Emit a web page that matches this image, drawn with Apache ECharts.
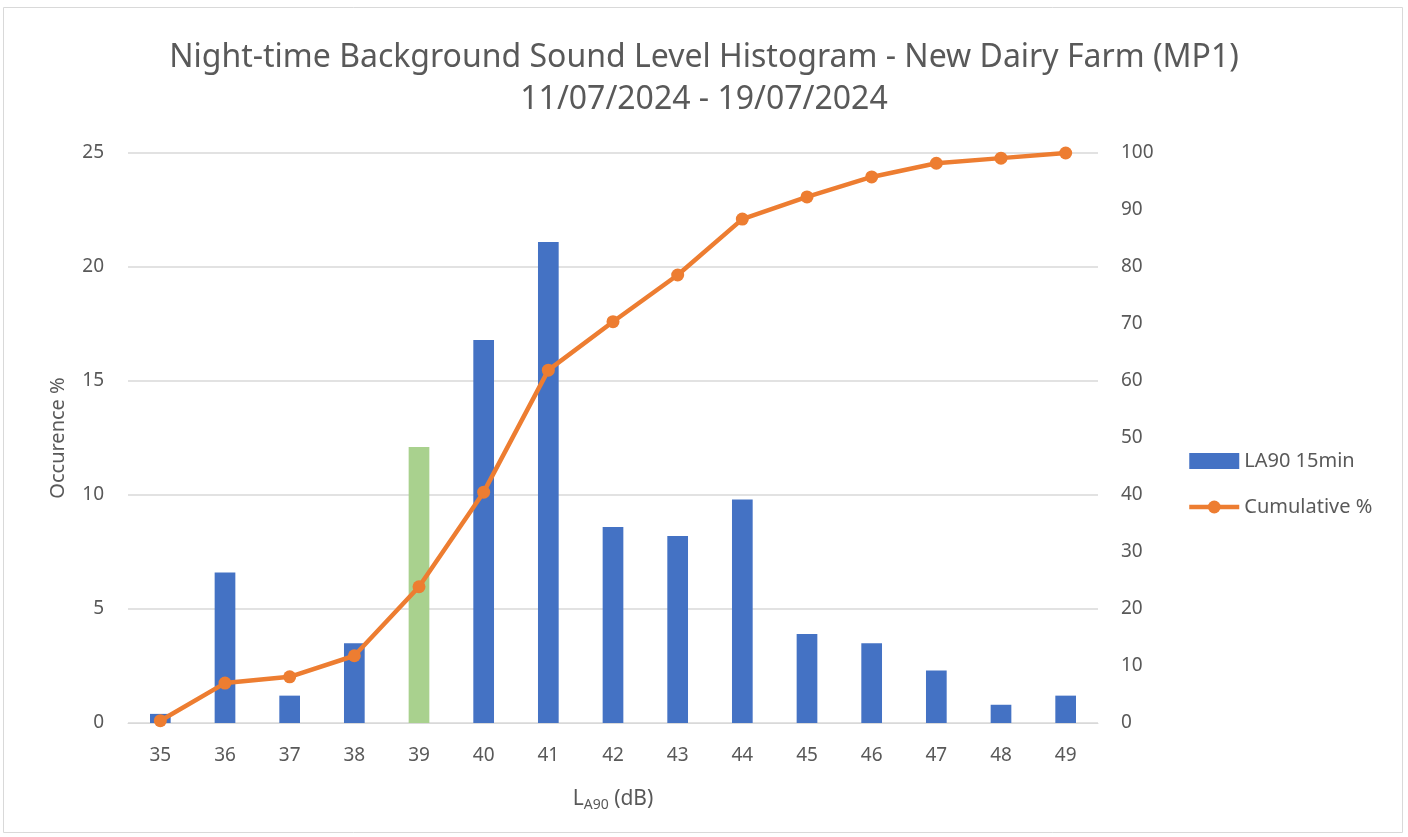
<!DOCTYPE html>
<html><head><meta charset="utf-8">
<script src="https://cdn.jsdelivr.net/npm/echarts@6/dist/echarts.min.js"></script>
<style>html,body{margin:0;padding:0;background:#fff}#c{width:1408px;height:837px}</style>
</head><body><div id="c"></div>
<script>
const categories = ['35','36','37','38','39','40','41','42','43','44','45','46','47','48','49'];
const occurrence = [0.4, 6.6, 1.2, 3.5, 12.1, 16.8, 21.1, 8.6, 8.2, 9.8, 3.9, 3.5, 2.3, 0.8, 1.2];
const cumulative = [0.4, 7.0, 8.1, 11.8, 23.9, 40.5, 61.9, 70.4, 78.6, 88.4, 92.3, 95.8, 98.2, 99.1, 100];
const highlightCategory = '39';
const titleLines = ['Night-time Background Sound Level Histogram - New Dairy Farm (MP1)', '11/07/2024 - 19/07/2024'];

const FONT = 'Noto Sans';
const chart = echarts.init(document.getElementById('c'));
chart.setOption({
  animation: false,
  textStyle: { fontFamily: FONT },
  graphic: [{ type: 'rect', shape: { x: 3.5, y: 7.5, width: 1399, height: 825 }, style: { fill: 'none', stroke: '#D9D9D9', lineWidth: 1 }, silent: true }],
  title: {
    text: titleLines.join('\n'), left: 'center', top: 32,
    textStyle: { fontFamily: FONT, fontSize: 32, fontWeight: 'normal', color: '#595959', lineHeight: 42 }
  },
  legend: {
    orient: 'vertical', left: 1182, top: 446, itemGap: 26, itemWidth: 50, itemHeight: 16,
    textStyle: { fontFamily: FONT, fontSize: 20, color: '#595959' },
    data: [{ name: 'LA90 15min', icon: 'rect' }, { name: 'Cumulative %', lineStyle: { width: 4.5 } }]
  },
  grid: { left: 128, right: 310, top: 153, bottom: 114, containLabel: false },
  xAxis: {
    type: 'category', data: categories,
    axisLine: { lineStyle: { color: '#D9D9D9' } }, axisTick: { show: false },
    axisLabel: { color: '#595959', fontSize: 19, margin: 23 },
    name: '{l|L}{s|A90}{l| (dB)}', nameLocation: 'middle', nameGap: 63,
    nameTextStyle: { rich: { l: { fontSize: 21, color: '#595959', fontFamily: FONT }, s: { fontSize: 14, color: '#595959', fontFamily: FONT, verticalAlign: 'bottom', padding: [12, 0, 0, 0] } } }
  },
  yAxis: [{
    type: 'value', min: 0, max: 25, interval: 5,
    axisLine: { show: false }, axisTick: { show: false },
    splitLine: { lineStyle: { color: '#D9D9D9', width: 1.5 } },
    axisLabel: { color: '#595959', fontSize: 19, margin: 24 },
    name: 'Occurence %', nameLocation: 'middle', nameGap: 60, nameRotate: 90,
    nameTextStyle: { color: '#595959', fontSize: 20 }
  }, {
    type: 'value', min: 0, max: 100, interval: 10,
    axisLine: { show: false }, axisTick: { show: false }, splitLine: { show: false },
    axisLabel: { color: '#595959', fontSize: 19, margin: 23, align: 'left' }
  }],
  series: [{
    name: 'LA90 15min', type: 'bar', yAxisIndex: 0, barWidth: '32%',
    itemStyle: { color: '#4472C4' },
    data: occurrence.map((v, i) => categories[i] === highlightCategory ? { value: v, itemStyle: { color: '#A9D18E' } } : v)
  }, {
    name: 'Cumulative %', type: 'line', yAxisIndex: 1, data: cumulative,
    symbol: 'circle', symbolSize: 13,
    lineStyle: { color: '#ED7D31', width: 4.5 }, itemStyle: { color: '#ED7D31' }
  }]
});
</script></body></html>
